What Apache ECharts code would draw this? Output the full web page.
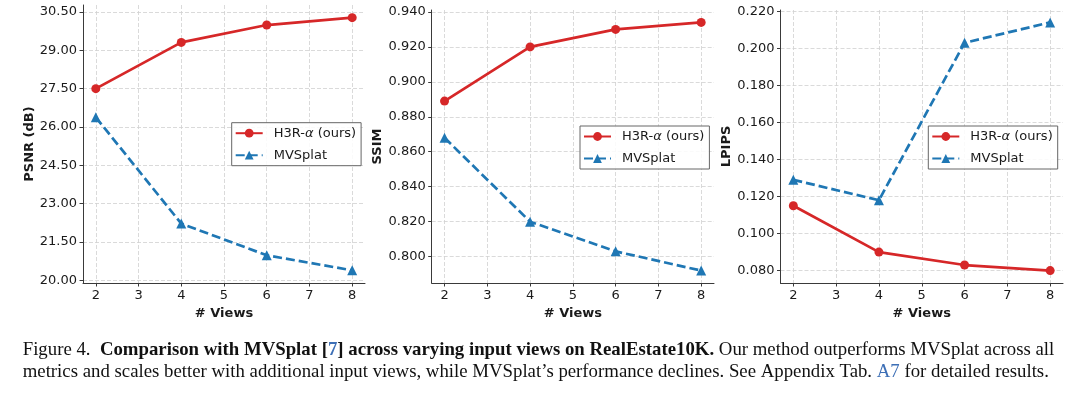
<!DOCTYPE html>
<html>
<head>
<meta charset="utf-8">
<script src="https://cdn.jsdelivr.net/npm/echarts@6/dist/echarts.min.js"></script>
<style>
html,body{margin:0;padding:0;background:#fff;}
#c{width:1080px;height:395px;}
</style>
</head>
<body>
<div id="c"></div>
<script>
// ---- data ----
const views = [2, 4, 6, 8];
const xTicks = [2, 3, 4, 5, 6, 7, 8];
const seriesNames = ['H3R-α (ours)', 'MVSplat'];

const psnrOurs = [27.50, 29.31, 29.99, 30.28];
const psnrMVSplat = [26.38, 22.22, 20.98, 20.39];
const psnrTicks = [20.00, 21.50, 23.00, 24.50, 26.00, 27.50, 29.00, 30.50];

const ssimOurs = [0.889, 0.920, 0.930, 0.934];
const ssimMVSplat = [0.868, 0.820, 0.803, 0.792];
const ssimTicks = [0.800, 0.820, 0.840, 0.860, 0.880, 0.900, 0.920, 0.940];

const lpipsOurs = [0.115, 0.090, 0.083, 0.080];
const lpipsMVSplat = [0.129, 0.118, 0.203, 0.214];
const lpipsTicks = [0.080, 0.100, 0.120, 0.140, 0.160, 0.180, 0.200, 0.220];

const yNames = ['PSNR (dB)', 'SSIM', 'LPIPS'];
const xName = '# Views';

// ---- styling ----
const RED = '#d62728', BLUE = '#1f77b4';
const AX = '#3a3a3a', GRIDC = '#d0d0d0', TXT = '#1a1a1a';
const FONT = 'DejaVu Sans';
const CAP = 'Liberation Serif', CAPSIZE = 18.8;

const grids = [
  {left: 83, top: 5, width: 282, height: 278},
  {left: 431.7, top: 10, width: 282.3, height: 273},
  {left: 780.5, top: 10, width: 282.5, height: 273}
];
const legendPos = [
  {left: 231.7, top: 122.7},
  {left: 580, top: 126},
  {left: 928.3, top: 126}
];
const panels = [
  {ours: psnrOurs, mv: psnrMVSplat, ticks: psnrTicks, dec: 2},
  {ours: ssimOurs, mv: ssimMVSplat, ticks: ssimTicks, dec: 3},
  {ours: lpipsOurs, mv: lpipsMVSplat, ticks: lpipsTicks, dec: 3}
];

function limits(a, b) {
  const all = a.concat(b);
  const lo = Math.min(...all), hi = Math.max(...all);
  const m = (hi - lo) * 0.05;
  return [lo - m, hi + m];
}
function pairs(ys) { return views.map((x, i) => [x, ys[i]]); }

const option = {
  backgroundColor: '#fff',
  animation: false,
  grid: grids.map(g => Object.assign({containLabel: false}, g)),
  xAxis: grids.map((g, i) => ({
    type: 'value', gridIndex: i, min: 1.7, max: 8.3,
    name: xName, nameLocation: 'middle', nameGap: 22,
    nameTextStyle: {fontFamily: FONT, fontWeight: 'bold', fontSize: 13, color: TXT},
    axisLine: {show: true, onZero: false, lineStyle: {color: AX, width: 1}},
    axisTick: {show: true, length: 3.5, customValues: xTicks, lineStyle: {color: AX, width: 1}},
    axisLabel: {customValues: xTicks, margin: 6, fontFamily: FONT, fontSize: 13, color: TXT,
      formatter: v => String(v)},
    splitLine: {show: true, lineStyle: {color: GRIDC, type: [4, 2], width: 0.8}}
  })),
  yAxis: panels.map((p, i) => {
    const [lo, hi] = limits(p.ours, p.mv);
    return {
      type: 'value', gridIndex: i, min: lo, max: hi,
      name: yNames[i], nameLocation: 'middle', nameGap: 47, nameRotate: 90,
      nameTextStyle: {fontFamily: FONT, fontWeight: 'bold', fontSize: 13, color: TXT},
      axisLine: {show: true, onZero: false, lineStyle: {color: AX, width: 1}},
      axisTick: {show: true, length: 3.5, customValues: p.ticks, lineStyle: {color: AX, width: 1}},
      axisLabel: {customValues: p.ticks, margin: 6, fontFamily: FONT, fontSize: 13, color: TXT,
        formatter: v => v.toFixed(p.dec)},
      splitLine: {show: true, lineStyle: {color: GRIDC, type: [4, 2], width: 0.8}}
    };
  }),
  legend: legendPos.map(lp => ({
    left: lp.left, top: lp.top, orient: 'vertical',
    data: seriesNames,
    backgroundColor: 'rgba(255,255,255,0.85)',
    borderColor: '#666', borderWidth: 1, borderRadius: 0,
    padding: [4, 5, 4, 3],
    itemWidth: 27, itemHeight: 11, itemGap: 9,
    selectedMode: false,
    textStyle: {fontFamily: FONT, fontSize: 13, color: TXT, padding: [0, 0, 0, 6],
      rich: {
        n: {fontFamily: FONT, fontSize: 13, color: TXT},
        i: {fontFamily: FONT, fontSize: 13, color: TXT, fontStyle: 'italic'}
      }},
    formatter: name => name === seriesNames[0] ? '{n|H3R-}{i|α}{n| (ours)}' : '{n|MVSplat}'
  })),
  series: [],
  graphic: [
    {
      type: 'text', left: 22.7, top: 341,
      style: {
        text: '{n|Figure 4.  }{b|Comparison with MVSplat [}{bl|7}{b|] across varying input views on RealEstate10K.}{n| Our method outperforms MVSplat across all}',
        rich: {
          n: {fontFamily: CAP, fontSize: CAPSIZE, fill: '#111'},
          b: {fontFamily: CAP, fontSize: CAPSIZE, fontWeight: 'bold', fill: '#111'},
          bl: {fontFamily: CAP, fontSize: CAPSIZE, fontWeight: 'bold', fill: '#3d6fb6'}
        }
      }
    },
    {
      type: 'text', left: 22.7, top: 363,
      style: {
        text: '{n|metrics and scales better with additional input views, while MVSplat’s performance declines. See Appendix Tab. }{bl|A7}{n| for detailed results.}',
        rich: {
          n: {fontFamily: CAP, fontSize: CAPSIZE, fill: '#111'},
          bl: {fontFamily: CAP, fontSize: CAPSIZE, fill: '#3d6fb6'}
        }
      }
    }
  ]
};

panels.forEach((p, i) => {
  option.series.push({
    name: seriesNames[0], type: 'line', xAxisIndex: i, yAxisIndex: i,
    data: pairs(p.ours), symbol: 'circle', symbolSize: 9,
    lineStyle: {color: RED, width: 2.7}, itemStyle: {color: RED}, z: 3
  });
  option.series.push({
    name: seriesNames[1], type: 'line', xAxisIndex: i, yAxisIndex: i,
    data: pairs(p.mv), symbol: 'triangle', symbolSize: 10,
    lineStyle: {color: BLUE, width: 2.7, type: [9, 4]}, itemStyle: {color: BLUE}, z: 3
  });
});

const chart = echarts.init(document.getElementById('c'), null, {renderer: 'canvas'});
chart.setOption(option);
</script>
</body>
</html>
